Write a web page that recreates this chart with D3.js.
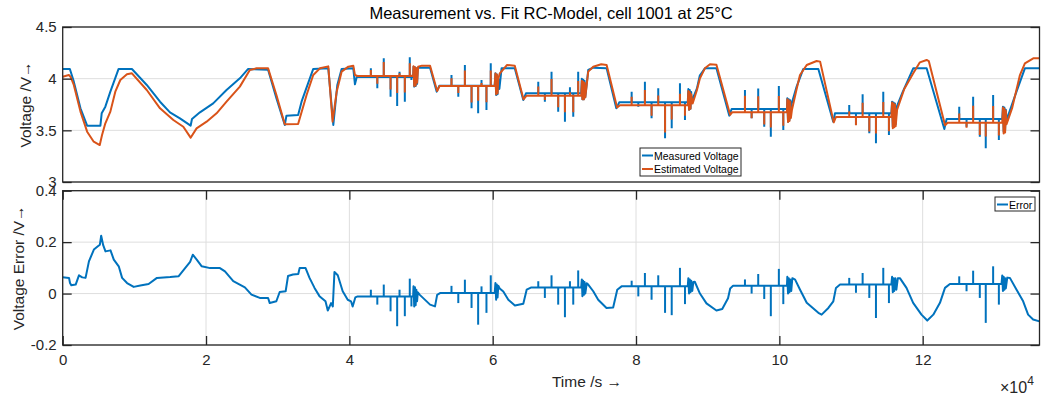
<!DOCTYPE html>
<html><head><meta charset="utf-8">
<script src="https://cdn.jsdelivr.net/npm/d3@7"></script>
<style>
body{margin:0;background:#fff;}
svg{display:block;font-family:"Liberation Sans",Arial,Helvetica,sans-serif;}
</style>
</head><body>
<svg id="chart" width="1043" height="398"></svg>
<script>
// ---------- DATA (time in units of 10^4 s) ----------
const measuredVoltage = [
[0,4.094],[0.1,4.094],[0.155,3.971],[0.248,3.713],[0.341,3.545],[0.526,3.545],[0.544,3.665],[0.595,3.729],[0.665,3.874],[0.78,4.094],[0.966,4.094],[1.173,3.939],[1.358,3.777],[1.497,3.674],[1.636,3.616],[1.785,3.545],[1.804,3.61],[1.915,3.674],[2.1,3.761],[2.286,3.89],[2.472,4.003],[2.588,4.094],[2.866,4.087],[2.982,3.81],[3.099,3.552],[3.122,3.642],[3.285,3.648],[3.333,3.777],[3.496,4.094],[3.706,4.1],[3.776,3.552],[3.832,3.939],[3.892,4.094],[4.055,4.1],[4.078,3.945],[4.103,4.015],
[4.89,4.015],[4.895,4.116],[4.905,3.923],[4.915,4.11],[4.925,3.93],[4.935,4.1],[4.945,3.95],[4.955,4.106],[5.126,4.106],[5.219,3.874],[5.256,3.932],[6.028,3.932],
[6.038,4.052],[6.048,3.842],[6.058,4.04],[6.068,3.85],[6.078,4.0],[6.093,3.9],[6.124,4.1],[6.308,4.1],[6.427,3.794],[6.464,3.858],[7.235,3.858],
[7.244,4.0],[7.252,3.8],[7.262,3.99],[7.272,3.8],[7.282,3.98],[7.292,3.82],[7.333,4.084],[7.403,4.106],[7.59,4.1],[7.725,3.713],[7.766,3.771],[8.722,3.771],
[8.73,3.9],[8.74,3.7],[8.75,3.89],[8.76,3.71],[8.77,3.87],[8.775,3.777],[8.85,3.906],[8.89,4.03],[8.961,4.1],[9.122,4.1],[9.302,3.642],[9.334,3.706],[10.106,3.706],
[10.111,3.81],[10.121,3.584],[10.131,3.8],[10.141,3.6],[10.151,3.79],[10.161,3.65],[10.166,3.745],[10.241,3.923],[10.334,4.094],[10.544,4.094],[10.752,3.584],[10.776,3.665],[11.563,3.665],
[11.573,3.777],[11.583,3.535],[11.593,3.77],[11.603,3.55],[11.613,3.76],[11.623,3.56],[11.633,3.72],[11.723,3.874],[11.868,4.1],[12.055,4.1],[12.302,3.513],[12.334,3.61],[13.11,3.61],
[13.12,3.729],[13.13,3.487],[13.14,3.72],[13.15,3.5],[13.16,3.7],[13.17,3.6],[13.309,3.874],[13.426,4.1],[13.63,4.1]
];
const estimatedVoltage = [
[0,4.019],[0.086,4.035],[0.109,4.019],[0.155,3.939],[0.248,3.681],[0.341,3.487],[0.433,3.39],[0.517,3.358],[0.549,3.455],[0.595,3.568],[0.665,3.681],[0.734,3.874],[0.804,3.987],[0.896,4.042],[0.966,4.052],[1.173,3.89],[1.358,3.713],[1.544,3.6],[1.683,3.535],[1.785,3.429],[1.868,3.519],[2.008,3.584],[2.147,3.665],[2.286,3.777],[2.472,3.923],[2.611,4.084],[2.704,4.1],[2.866,4.1],[2.982,3.842],[3.099,3.558],[3.285,3.561],[3.403,3.842],[3.496,4.035],[3.589,4.1],[3.706,4.119],[3.766,3.584],[3.823,3.874],[3.892,4.068],[3.986,4.116],[4.055,4.126],[4.078,4.035],[4.112,4.026],
[4.89,4.026],[4.895,4.12],[4.905,3.93],[4.915,4.11],[4.925,3.935],[4.935,4.1],[4.945,3.96],[4.96,4.115],[5.013,4.126],[5.126,4.126],[5.225,3.88],[5.26,3.93],[6.028,3.93],
[6.038,4.05],[6.048,3.85],[6.058,4.04],[6.068,3.86],[6.078,4.0],[6.098,4.05],[6.198,4.132],[6.308,4.126],[6.43,3.8],[6.47,3.834],[7.235,3.834],
[7.244,3.98],[7.252,3.8],[7.262,3.97],[7.272,3.8],[7.282,3.96],[7.292,3.82],[7.333,4.068],[7.403,4.116],[7.514,4.139],[7.59,4.132],[7.736,3.72],[7.776,3.743],[8.722,3.743],
[8.73,3.88],[8.74,3.7],[8.75,3.87],[8.76,3.71],[8.77,3.85],[8.79,3.76],[8.85,3.89],[8.89,4.0],[8.961,4.1],[9.032,4.139],[9.122,4.135],[9.313,3.65],[9.344,3.676],[10.106,3.676],
[10.111,3.8],[10.121,3.58],[10.131,3.79],[10.141,3.59],[10.151,3.78],[10.161,3.62],[10.176,3.7],[10.241,3.9],[10.288,4.035],[10.382,4.132],[10.52,4.171],[10.569,4.165],[10.759,3.577],[10.79,3.63],[11.563,3.63],
[11.573,3.77],[11.583,3.52],[11.593,3.76],[11.603,3.53],[11.613,3.75],[11.623,3.54],[11.643,3.7],[11.743,3.9],[11.868,4.052],[11.961,4.158],[12.055,4.181],[12.085,4.17],[12.312,3.55],[12.348,3.573],[13.11,3.573],
[13.12,3.72],[13.13,3.47],[13.14,3.71],[13.15,3.48],[13.16,3.69],[13.17,3.56],[13.25,3.72],[13.357,4.035],[13.426,4.148],[13.543,4.197],[13.63,4.197]
];
const voltageError = [
[0,0.063],[0.088,0.061],[0.102,0.041],[0.12,0.032],[0.181,0.035],[0.227,0.071],[0.273,0.063],[0.319,0.061],[0.366,0.125],[0.435,0.171],[0.491,0.184],[0.519,0.19],[0.537,0.225],[0.565,0.188],[0.597,0.164],[0.667,0.168],[0.713,0.132],[0.782,0.106],[0.829,0.061],[0.898,0.041],[0.991,0.026],[1.083,0.031],[1.199,0.037],[1.315,0.061],[1.5,0.064],[1.616,0.067],[1.708,0.099],[1.778,0.123],[1.815,0.151],[1.87,0.132],[1.94,0.106],[2.056,0.099],[2.194,0.099],[2.264,0.086],[2.38,0.048],[2.542,0.024],[2.634,-0.004],[2.75,-0.017],[2.866,-0.017],[2.889,-0.037],[2.981,-0.03],[3.028,0.006],[3.111,0.009],[3.144,0.068],[3.213,0.074],[3.287,0.076],[3.306,0.099],[3.389,0.099],[3.444,0.061],[3.514,0.022],[3.583,-0.01],[3.667,-0.03],[3.699,-0.066],[3.745,-0.037],[3.769,-0.05],[3.792,0.084],[3.838,0.071],[3.907,0.009],[3.977,-0.024],[4.023,-0.03],[4.046,-0.05],[4.083,-0.015],[4.116,-0.011],
[4.89,-0.011],[4.895,0.028],[4.905,-0.05],[4.915,0.025],[4.925,-0.045],[4.935,0.015],[4.945,-0.03],[4.955,0.005],[4.983,-0.005],[5.126,-0.043],[5.195,-0.05],[5.225,-0.005],[5.265,0.002],[6.028,0.002],
[6.038,0.041],[6.048,-0.024],[6.058,0.035],[6.068,-0.015],[6.078,0.03],[6.098,0.02],[6.148,0.008],[6.218,-0.024],[6.31,-0.046],[6.427,-0.04],[6.474,0.015],[6.54,0.024],[7.235,0.024],
[7.244,0.055],[7.252,-0.01],[7.262,0.05],[7.272,-0.005],[7.282,0.045],[7.292,0.0],[7.312,0.04],[7.333,0.035],[7.403,0.009],[7.472,-0.024],[7.588,-0.056],[7.681,-0.054],[7.738,0.015],[7.798,0.028],[8.722,0.028],
[8.73,0.06],[8.74,0.0],[8.75,0.055],[8.76,0.005],[8.77,0.05],[8.785,0.01],[8.8,0.045],[8.82,0.046],[8.892,0.0],[8.983,-0.038],[9.122,-0.066],[9.203,-0.06],[9.284,-0.018],[9.314,0.02],[9.354,0.03],[10.106,0.03],
[10.111,0.065],[10.121,0.0],[10.131,0.06],[10.141,0.005],[10.151,0.055],[10.166,0.01],[10.181,0.06],[10.22,0.054],[10.289,0.015],[10.382,-0.036],[10.544,-0.075],[10.59,-0.082],[10.684,-0.056],[10.753,-0.03],[10.79,0.022],[10.847,0.035],[11.563,0.035],
[11.573,0.065],[11.583,0.005],[11.593,0.06],[11.603,0.01],[11.618,0.06],[11.633,0.015],[11.653,0.06],[11.682,0.06],[11.774,0.022],[11.867,-0.036],[11.983,-0.082],[12.064,-0.105],[12.148,-0.082],[12.241,-0.036],[12.311,0.022],[12.38,0.037],[13.1,0.037],
[13.11,0.07],[13.12,0.01],[13.13,0.065],[13.14,0.015],[13.15,0.06],[13.16,0.02],[13.18,0.062],[13.217,0.061],[13.31,0.015],[13.402,-0.03],[13.471,-0.082],[13.541,-0.101],[13.63,-0.108]
];
// rest levels (plateaus) on which the short pulses sit
const plateauStart = [4.1, 5.26, 6.46, 7.77, 9.33, 10.78, 12.34];
const plateauEnd = [4.89, 6.03, 7.24, 8.73, 10.11, 11.57, 13.11];
const plateauMeasured = [4.015, 3.932, 3.858, 3.771, 3.706, 3.665, 3.61];
const plateauEstimated = [4.026, 3.93, 3.834, 3.743, 3.676, 3.63, 3.573];
const plateauError = [-0.011, 0.002, 0.024, 0.028, 0.03, 0.035, 0.037];
// current pulses: time and tip values
const spikeTime = [4.30,4.39,4.48,4.575,4.667,4.70,4.774,4.843,4.866,
 5.425,5.52,5.612,5.705,5.797,5.844,5.913,5.973,
 6.636,6.728,6.821,6.914,7.008,7.078,7.124,7.193,
 7.939,8.032,8.124,8.217,8.31,8.405,8.498,8.613,8.683,
 9.52,9.613,9.705,9.789,9.881,9.993,10.055,
 10.975,11.069,11.162,11.255,11.348,11.45,11.529,
 12.51,12.612,12.704,12.797,12.88,12.983,13.063];
const spikeMeasured = [4.10,3.907,4.197,3.825,3.735,4.067,3.777,4.207,3.987,
 4.035,3.825,4.132,3.713,3.665,3.987,3.697,4.149,
 3.971,3.777,4.067,3.68,3.584,3.916,3.632,4.067,
 3.874,3.729,3.971,3.616,3.907,3.423,3.52,3.955,3.6,
 3.89,3.616,3.906,3.535,3.439,3.929,3.503,
 3.745,3.552,3.848,3.471,3.374,3.874,3.455,
 3.729,3.535,3.826,3.439,3.326,3.842,3.406];
const spikeEstimated = [4.085,3.95,4.162,3.894,3.862,4.052,3.865,4.149,4.037,
 4.005,3.862,4.078,3.769,3.786,3.959,3.772,4.078,
 3.923,3.794,3.996,3.723,3.676,3.868,3.675,3.977,
 3.824,3.74,3.891,3.64,3.836,3.48,3.604,3.855,3.641,
 3.835,3.616,3.83,3.556,3.527,3.833,3.544,
 3.684,3.549,3.768,3.488,3.469,3.774,3.492,
 3.662,3.526,3.737,3.456,3.44,3.736,3.449];
const spikeError = [0.015,-0.043,0.035,-0.069,-0.127,0.015,-0.088,0.058,-0.05,
 0.03,-0.037,0.054,-0.056,-0.121,0.028,-0.075,0.071,
 0.048,-0.017,0.071,-0.043,-0.092,0.048,-0.043,0.09,
 0.05,-0.011,0.08,-0.024,0.071,-0.075,-0.084,0.1,-0.041,
 0.055,0.0,0.076,-0.021,-0.088,0.096,-0.041,
 0.061,0.003,0.08,-0.017,-0.095,0.1,-0.037,
 0.067,0.009,0.089,-0.017,-0.114,0.106,-0.043];
const timeTicks = [0,2,4,6,8,10,12];
const voltageTicks = [3,3.5,4,4.5];
const errorTicks = [-0.2,0,0.2,0.4];

// ---------- LAYOUT ----------
const BLUE = "#0072BD", ORANGE = "#D95319", AXC = "#262626", GRID = "#dedede";
const L = 62.7, R = 1039.5;
const T1 = 27, B1 = 182, T2 = 190.7, B2 = 345;
const svg = d3.select("#chart");
const x = d3.scaleLinear().domain([0, 13.63]).range([L, R]);
const y1 = d3.scaleLinear().domain([3, 4.5]).range([B1, T1]);
const y2 = d3.scaleLinear().domain([-0.2, 0.4]).range([B2, T2]);
const fmt = d => String(d);

const defs = svg.append("defs");
defs.append("clipPath").attr("id","c1").append("rect").attr("x",L).attr("y",T1).attr("width",R-L).attr("height",B1-T1);
defs.append("clipPath").attr("id","c2").append("rect").attr("x",L).attr("y",T2).attr("width",R-L).attr("height",B2-T2);

function plateauIndex(t){ return plateauStart.findIndex((s,i)=> t>=s && t<=plateauEnd[i]); }

function drawPanel(ys, yTicks, vGrid, xTicksOn, T, B, clipId, seriesList){
  const g = svg.append("g");
  g.append("rect").attr("x",L).attr("y",T).attr("width",R-L).attr("height",B-T).attr("fill","#fff");
  g.append("g").selectAll("line").data(yTicks).join("line")
    .attr("x1",L).attr("x2",R).attr("y1",d=>ys(d)).attr("y2",d=>ys(d))
    .attr("stroke",GRID).attr("stroke-width",1);
  if (vGrid) g.append("g").selectAll("line").data(timeTicks).join("line")
    .attr("x1",d=>x(d)).attr("x2",d=>x(d)).attr("y1",T).attr("y2",B)
    .attr("stroke",GRID).attr("stroke-width",1);
  const plot = g.append("g").attr("clip-path",`url(#${clipId})`);
  seriesList.forEach(s=>{
    plot.append("path").datum(s.data)
      .attr("d", d3.line().x(d=>x(d[0])).y(d=>ys(d[1])))
      .attr("fill","none").attr("stroke",s.color).attr("stroke-width",2)
      .attr("stroke-linejoin","round");
    plot.append("g").selectAll("line").data(spikeTime).join("line")
      .attr("x1",d=>x(d)).attr("x2",d=>x(d))
      .attr("y1",d=>ys(s.base[plateauIndex(d)]))
      .attr("y2",(d,i)=>ys(s.tips[i]))
      .attr("stroke",s.color).attr("stroke-width",2);
  });
  const tl = 9;
  const la = g.append("g").attr("transform",`translate(${L},0)`)
    .call(d3.axisLeft(ys).tickValues(yTicks).tickFormat(fmt).tickSize(-tl).tickPadding(6));
  const ra = g.append("g").attr("transform",`translate(${R},0)`)
    .call(d3.axisRight(ys).tickValues(yTicks).tickFormat("").tickSize(-tl));
  const axs = [la, ra];
  if (xTicksOn){
    axs.push(g.append("g").attr("transform",`translate(0,${B})`)
      .call(d3.axisBottom(x).tickValues(timeTicks).tickFormat(fmt).tickSize(-tl).tickPadding(9)));
    axs.push(g.append("g").attr("transform",`translate(0,${T})`)
      .call(d3.axisTop(x).tickValues(timeTicks).tickFormat("").tickSize(-tl)));
  }
  axs.forEach(a=>{
    a.select(".domain").remove();
    a.selectAll(".tick line").attr("stroke",AXC).attr("stroke-width",1.3);
    a.selectAll(".tick text").attr("fill",AXC).style("font-size","15px")
      .style("font-family",'"Liberation Sans",Arial,sans-serif');
  });
  g.append("rect").attr("x",L).attr("y",T).attr("width",R-L).attr("height",B-T)
    .attr("fill","none").attr("stroke",AXC).attr("stroke-width",1.3);
  return g;
}

const gBot = drawPanel(y2, errorTicks, true, true, T2, B2, "c2",
  [{data: voltageError, color: BLUE, base: plateauError, tips: spikeError}]);
const gTop = drawPanel(y1, voltageTicks, false, false, T1, B1, "c1",
  [{data: measuredVoltage, color: BLUE, base: plateauMeasured, tips: spikeMeasured},
   {data: estimatedVoltage, color: ORANGE, base: plateauEstimated, tips: spikeEstimated}]);

svg.append("text").attr("x",(L+R)/2).attr("y",18.5).attr("text-anchor","middle")
  .attr("fill","#000").style("font-size","16.5px").text("Measurement vs. Fit RC-Model, cell 1001 at 25°C");
svg.append("text").attr("transform",`translate(25.5,${(T1+B1)/2}) rotate(-90)`)
  .attr("text-anchor","middle").attr("dominant-baseline","central")
  .attr("fill",AXC).style("font-size","15.5px").text("Voltage /V→");
svg.append("text").attr("transform",`translate(18,${(T2+B2)/2}) rotate(-90)`)
  .attr("text-anchor","middle").attr("dominant-baseline","central")
  .attr("fill",AXC).style("font-size","15.5px").text("Voltage Error /V→");
svg.append("text").attr("x",587).attr("y",387).attr("text-anchor","middle")
  .attr("fill",AXC).style("font-size","15.5px").text("Time /s →");
const ex = svg.append("text").attr("x",1000).attr("y",393).attr("fill",AXC).style("font-size","16px");
ex.append("tspan").text("×10");
ex.append("tspan").attr("dy",-8).style("font-size","12px").text("4");

function legend(x0,y0,w,h,items){
  const lg = svg.append("g");
  lg.append("rect").attr("x",x0).attr("y",y0).attr("width",w).attr("height",h)
    .attr("fill","#fff").attr("stroke",AXC).attr("stroke-width",1);
  items.forEach((it,i)=>{
    const yy = y0 + 7.5 + i*13.5;
    lg.append("line").attr("x1",x0+2).attr("x2",x0+13).attr("y1",yy).attr("y2",yy)
      .attr("stroke",it.color).attr("stroke-width",2);
    lg.append("text").attr("x",x0+14).attr("y",yy).attr("dominant-baseline","central")
      .attr("fill","#000").style("font-size","10.5px").text(it.label);
  });
}
legend(640,148,101,28,[{label:"Measured Voltage",color:BLUE},{label:"Estimated Voltage",color:ORANGE}]);
legend(995,197,40,14,[{label:"Error",color:BLUE}]);
</script>
</body></html>
